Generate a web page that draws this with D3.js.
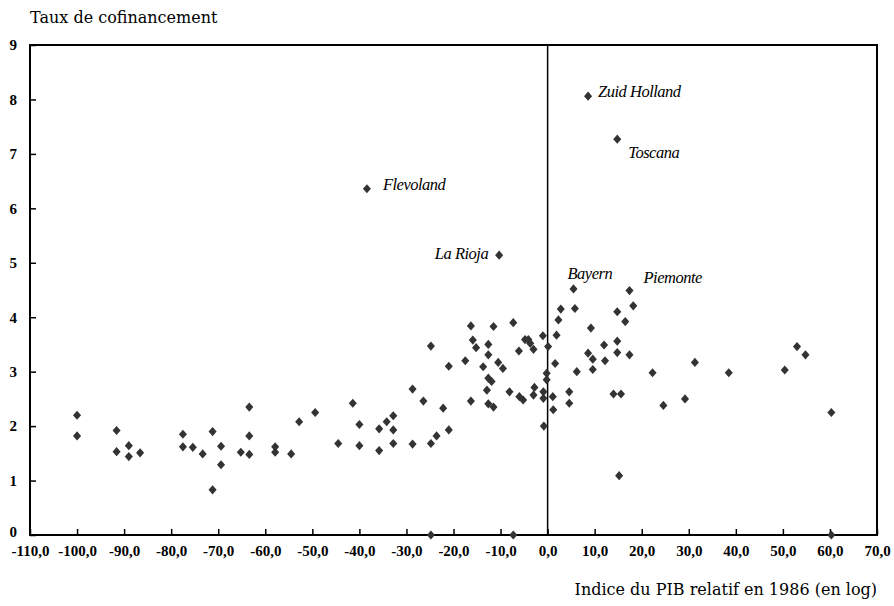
<!DOCTYPE html>
<html>
<head>
<meta charset="utf-8">
<script src="https://cdn.jsdelivr.net/npm/d3@7"></script>
<style>
  body { margin: 0; background: #fff; }
  svg text { font-family: "DejaVu Serif", serif; }
  .lbl { font-family: "Liberation Serif", serif; font-style: italic; font-size: 16.5px; letter-spacing: -0.5px; }
</style>
</head>
<body>
<svg id="chart"></svg>
<script>
// PIB relatif 1986 (log index) and co-financing rate, one entry per region
const pibIndex = [
    -100, -100, -91.6, -91.6, -89.0, -89.0, -86.6, -77.5, -77.5, -75.4,
    -73.3, -71.2, -71.2, -69.4, -69.4, -65.2, -63.4, -63.4, -63.4, -57.9,
    -57.9, -54.5, -52.8, -49.4, -44.5, -41.4, -40.0, -40.0, -38.4, -35.8,
    -35.8, -34.2, -32.8, -32.8, -32.8, -28.7, -28.7, -26.4, -24.8, -24.8,
    -24.8, -23.6, -22.2, -21.0, -21.0, -17.5, -16.3, -16.3, -15.9, -15.2,
    -13.7, -12.9, -12.6, -12.6, -12.6, -12.6, -11.9, -11.5, -11.5, -10.5,
    -10.3, -9.5, -8.1, -7.3, -7.3, -6.1, -6.0, -5.2, -4.8, -4.1,
    -3.7, -3.0, -2.8, -3.0, -1.0, -0.9, -0.9, -0.8, -0.2, -0.2,
    0.1, 1.1, 1.2, 1.6, 1.9, 2.3, 2.8, 4.6, 4.6, 5.5,
    5.8, 6.2, 8.6, 8.6, 9.2, 9.6, 9.6, 12.0, 12.2, 14.0,
    14.8, 14.8, 14.8, 14.8, 15.2, 15.6, 16.5, 17.4, 17.4, 18.2,
    22.3, 24.6, 29.2, 31.3, 38.5, 50.4, 53.0, 54.8, 60.3, 60.3
];
const tauxCofin = [
    2.20, 1.82, 1.92, 1.53, 1.64, 1.44, 1.51, 1.85, 1.62, 1.61,
    1.49, 1.90, 0.83, 1.63, 1.29, 1.52, 2.35, 1.82, 1.48, 1.62,
    1.52, 1.49, 2.08, 2.25, 1.68, 2.42, 2.03, 1.64, 6.36, 1.95,
    1.55, 2.08, 2.19, 1.93, 1.68, 2.68, 1.67, 2.46, 3.47, 1.68,
    0.00, 1.82, 2.33, 3.10, 1.93, 3.20, 3.84, 2.46, 3.58, 3.44,
    3.09, 2.66, 3.50, 3.31, 2.88, 2.41, 2.82, 3.83, 2.35, 3.17,
    5.14, 3.06, 2.63, 3.90, 0.00, 3.38, 2.54, 2.48, 3.59, 3.59,
    3.52, 3.41, 2.71, 2.57, 3.66, 2.63, 2.51, 2.00, 2.97, 2.85,
    3.46, 2.54, 2.30, 3.15, 3.67, 3.95, 4.15, 2.63, 2.42, 4.52,
    4.16, 3.00, 8.06, 3.34, 3.80, 3.23, 3.04, 3.49, 3.20, 2.59,
    7.27, 4.10, 3.56, 3.35, 1.09, 2.59, 3.92, 4.49, 3.31, 4.21,
    2.98, 2.38, 2.50, 3.17, 2.98, 3.03, 3.46, 3.31, 2.25, 0.00
];
const namedRegions = ["Zuid Holland", "Toscana", "Flevoland", "La Rioja", "Bayern", "Piemonte"];
const namedX = [8.6, 14.8, -38.4, -10.3, 5.5, 17.4];
const namedY = [8.06, 7.27, 6.36, 5.14, 4.52, 4.49];

const xTicks = d3.range(-110, 71, 10);
const yTicks = d3.range(0, 10, 1);
const yTitle = "Taux de cofinancement";
const xTitle = "Indice du PIB relatif en 1986 (en log)";

const width = 894;
const height = 606;
const margin = {top: 45, right: 17, bottom: 71, left: 30};

const svg = d3.select('#chart').attr('width', width).attr('height', height);

const x = d3.scaleLinear().domain([-110, 70]).range([margin.left, width - margin.right]);
const y = d3.scaleLinear().domain([0, 9]).range([height - margin.bottom, margin.top]);

const fmt = d => d.toFixed(1).replace('.', ',');

function styleAxis(g) {
    g.select('.domain').remove();
    g.selectAll('.tick line').attr('stroke', '#000').attr('stroke-width', 1.5);
    g.selectAll('.tick text')
        .attr('fill', '#000')
        .style('font-family', '"Liberation Serif", serif')
        .style('font-weight', 'bold')
        .style('font-size', '15px');
}

// axes, ticks pointing inward
svg.append('g')
    .attr('transform', `translate(0,${y(0)})`)
    .call(d3.axisBottom(x).tickValues(xTicks).tickFormat(fmt).tickSizeInner(-6).tickSizeOuter(0).tickPadding(10))
    .call(styleAxis);

svg.append('g')
    .attr('transform', `translate(${x(-110)},0)`)
    .call(d3.axisLeft(y).tickValues(yTicks).tickFormat(d3.format('d')).tickSizeInner(-6).tickSizeOuter(0).tickPadding(13))
    .call(styleAxis)
    .call(g => g.selectAll('.tick text').filter(d => d === 0).attr('dy', '0.1em'));

// frame
svg.append('rect')
    .attr('x', x(-110)).attr('y', y(9))
    .attr('width', x(70) - x(-110)).attr('height', y(0) - y(9))
    .attr('fill', 'none').attr('stroke', '#000').attr('stroke-width', 2);

// zero line
svg.append('line')
    .attr('x1', x(0)).attr('x2', x(0))
    .attr('y1', y(9)).attr('y2', y(0))
    .attr('stroke', '#000').attr('stroke-width', 1.5);

// points
const diamond = d3.symbol().type(d3.symbolDiamond2).size(46);
svg.append('g').selectAll('path')
    .data(pibIndex.map((v, i) => [v, tauxCofin[i]]))
    .enter().append('path')
    .attr('d', diamond)
    .attr('transform', d => `translate(${x(d[0])},${y(d[1])}) scale(0.95,1.08)`)
    .attr('fill', '#333');

// labels beside the outstanding regions
const labelOffset = {
    "Zuid Holland": [10, -5, 'start'],
    "Toscana": [11, 13, 'start'],
    "Flevoland": [16, -5, 'start'],
    "La Rioja": [-11, -2, 'end'],
    "Bayern": [-6, -16, 'start'],
    "Piemonte": [14, -13, 'start']
};
svg.append('g').selectAll('text')
    .data(namedRegions)
    .enter().append('text')
    .attr('class', 'lbl')
    .attr('x', (d, i) => x(namedX[i]) + labelOffset[d][0])
    .attr('y', (d, i) => y(namedY[i]) + labelOffset[d][1])
    .attr('dy', '0.35em')
    .attr('text-anchor', d => labelOffset[d][2])
    .text(d => d);

// axis titles
svg.append('text')
    .attr('x', margin.left).attr('y', 23)
    .attr('font-size', 16)
    .text(yTitle);

svg.append('text')
    .attr('x', x(70)).attr('y', 595)
    .attr('text-anchor', 'end')
    .attr('font-size', 16)
    .text(xTitle);
</script>
</body>
</html>
